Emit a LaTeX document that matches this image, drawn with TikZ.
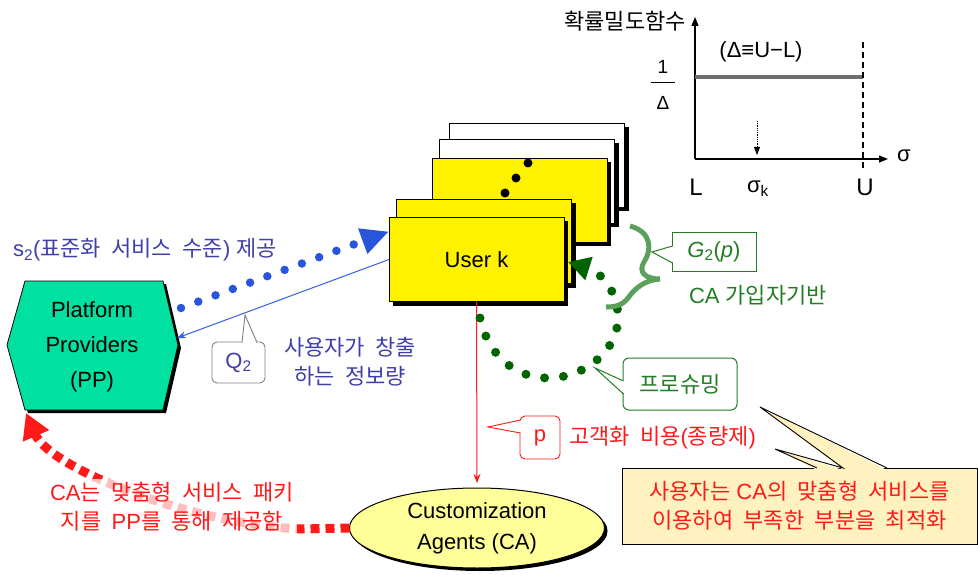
\documentclass[tikz,border=0pt]{standalone}
\usepackage{fontspec}
\setmainfont{Liberation Sans}
\newfontfamily\kr{Noto Sans CJK KR}[Scale=1.0, WordSpace=2.1]
\usetikzlibrary{arrows.meta,shadows,shapes.geometric,calc}

\definecolor{ppgreen}{RGB}{0,224,160}
\definecolor{dotblue}{RGB}{40,85,220}
\definecolor{txtblue}{RGB}{64,64,170}
\definecolor{linblue}{RGB}{50,95,230}
\definecolor{myred}{RGB}{255,25,25}
\definecolor{dkgreen}{RGB}{0,100,0}
\definecolor{bracegreen}{RGB}{92,160,92}
\definecolor{txtgreen}{RGB}{35,125,35}
\definecolor{cayellow}{RGB}{255,255,153}
\definecolor{notecream}{RGB}{255,242,192}
\definecolor{qgray}{RGB}{128,128,128}
\definecolor{plotgray}{RGB}{110,110,110}

\begin{document}
\begin{tikzpicture}[x=1pt, y=-1pt,
  font=\fontsize{22}{30}\selectfont,
  every node/.style={inner sep=0pt, outer sep=0pt},
  hardshadow/.style={drop shadow={shadow xshift=4pt, shadow yshift=-4pt, fill=black, opacity=1}},
  userbox/.style={draw=black, line width=0.8pt, minimum width=175pt, minimum height=84pt, hardshadow},
  blankcard/.style={userbox, fill=white},
  yellowcard/.style={userbox, fill=yellow},
  axis/.style={line width=1.3pt, -{Triangle[length=9pt,width=7pt]}},
  bluedots/.style={dotblue, line width=8.5pt, line cap=round, dash pattern=on 0pt off 18.4pt, -{Triangle[length=28pt,width=25pt]}},
  greendots/.style={dkgreen, line width=9pt, line cap=round, dash pattern=on 0pt off 19pt, -{Triangle[length=22pt,width=23pt]}},
  reddots/.style={myred, line width=9pt, dash pattern=on 9pt off 6pt, -{Triangle[length=25pt,width=27pt]}},
  thinarrow/.style={line width=1pt, -{Stealth[length=9pt,width=7pt]}},
  qbox/.style={draw=qgray, fill=white, line width=0.9pt, rounded corners=5pt, minimum width=53pt, minimum height=41pt, text=txtblue},
  pbox/.style={draw=myred, fill=white, line width=0.9pt, rounded corners=5pt, minimum width=40pt, minimum height=43pt, text=myred},
  gbox/.style={draw=txtgreen, fill=white, line width=1pt, minimum width=84pt, minimum height=39pt, text=txtgreen},
  prbox/.style={draw=txtgreen, fill=white, line width=1pt, rounded corners=6pt, minimum width=114pt, minimum height=52pt, text=txtgreen},
  notebox/.style={draw=black, fill=notecream, line width=0.9pt, minimum width=355pt, minimum height=76pt, align=center, text=myred, font=\fontsize{22}{29}\selectfont},
]
\useasboundingbox (0,0) rectangle (978,575);

% ---------- uniform density plot ----------
\coordinate (O) at (695,159);
\coordinate (ytop) at (695,17);
\coordinate (xend) at (888,159);
\draw[axis] (O) -- (ytop);
\draw[axis] (O) -- (xend);
\node (ylab) at (625,21) {\kr 확률밀도함수};
\node (sig) at (904,156) {σ};
\draw[line width=4pt, plotgray] (695,77) -- (863,77);
\draw[line width=1.1pt, dash pattern=on 6pt off 4pt] (863,42) -- (863,168);
\node (deltadef) at (761,52) {(Δ≡U−L)};
\node[font=\fontsize{19}{20}\selectfont] (one) at (663,67) {1};
\draw[line width=0.9pt] (651,82) -- (675,82);
\node[font=\fontsize{19}{20}\selectfont] (dlt) at (663,103) {Δ};
\draw[densely dotted, line width=0.8pt, -{Triangle[length=8pt,width=6pt]}] (757,121) -- (757,155);
\node[font=\fontsize{24}{26}\selectfont] (Llab) at (696,187) {L};
\node (sk) at (758,189) {σ\textsubscript{k}};
\node[font=\fontsize{24}{26}\selectfont] (Ulab) at (865,187) {U};

% ---------- stack of users ----------
\node[blankcard] (u1) at (537,165) {};
\node[blankcard] (u2) at (527,181) {};
\node[yellowcard] (u3) at (519.5,200) {};
\node[yellowcard] (u4) at (484,241.5) {};
\node[yellowcard] (u5) at (476.5,259.5) {User k};
\fill (528,163) circle (4.5pt) (516,178) circle (4.5pt) (505,193) circle (4.5pt);

% ---------- platform providers ----------
\fill[black, shift={(3pt,-3pt)}] (25,281) -- (163,281) -- (178,345) -- (163,410) -- (25,410) -- (7,345) -- cycle;
\filldraw[fill=ppgreen, draw=black, line width=0.8pt] (25,281) -- (163,281) -- (178,345) -- (163,410) -- (25,410) -- (7,345) -- cycle;
\node[align=center, font=\fontsize{22}{35}\selectfont] (pp) at (92,347) {Platform\\Providers\\(PP)};
\coordinate (ppE) at (177,338);
\coordinate (ppNE) at (181,308);
\coordinate (ppSW) at (26,413);

% ---------- customization agents ----------
\node[ellipse, draw, line width=1pt, fill=cayellow, minimum width=255pt, minimum height=80pt,
      drop shadow={shadow xshift=3pt, shadow yshift=-3pt, fill=black, opacity=1},
      align=center, font=\fontsize{22}{31}\selectfont] (ca) at (477,528) {Customization\\Agents (CA)};

% ---------- standard service level and information volume ----------
\draw[bluedots] (ppNE) -- ($(u5.north west)+(0,14)$);
\node[anchor=west, text=txtblue] (s2lab) at (13,250) {s\textsubscript{2}({\kr 표준화 서비스 수준}) {\kr 제공}};
\draw[thinarrow, linblue] (u5.west) -- (ppE);
\node[qbox] (q2) at (238.5,362.5) {Q\textsubscript{2}};
\coordinate (q2tip) at (245,315);
\fill[white] (242,344) -- (q2tip) -- (257,344) -- cycle;
\draw[qgray, line width=0.9pt] (242,342.5) -- (q2tip) -- (257,342.5);
\node[align=center, text=txtblue, font=\fontsize{22}{29}\selectfont] (qlab) at (350,362) {{\kr 사용자가 창출}\\{\kr 하는 정보량}};

% ---------- customization fee ----------
\draw[thinarrow, myred, shorten >=5pt] (u5.south) -- (ca.north);
\node[pbox] (pc) at (540,437.5) {p};
\coordinate (pctip) at (488,427);
\fill[white] (522,420) -- (pctip) -- (522,433) -- cycle;
\draw[myred, line width=0.9pt] (520.5,420) -- (pctip) -- (520.5,433);
\node[anchor=west, text=myred] (feelab) at (569,438) {{\kr 고객화 비용}({\kr 종량제})};

% ---------- prosuming loop ----------
\coordinate (gstart) at (480,318);
\coordinate (gtip) at ($(u5.east)+(4,2.5)$);
\draw[greendots] (gstart) .. controls (488,355) and (515,378) .. (548,378)
                         .. controls (585,378) and (618,350) .. (618,318)
                         .. controls (618,290) and (600,272) .. (gtip);
\draw[bracegreen, line width=5pt] (630,226) .. controls (652,232) and (652,250) .. (644,262)
                                  .. controls (638,272) and (645,279) .. (660,279)
                                  .. controls (645,280) and (635,288) .. (628,298)
                                  .. controls (622,306) and (614,307) .. (606,307);
\node[gbox] (g2) at (714,251.5) {\textit{G}\textsubscript{2}(\textit{p})};
\coordinate (g2tip) at (652,252);
\fill[white] (674,246) -- (g2tip) -- (674,263) -- cycle;
\draw[txtgreen, line width=1pt] (672.5,246) -- (g2tip) -- (672.5,263);
\node[text=txtgreen] (calab) at (758,295) {CA {\kr 가입자기반}};
\node[prbox] (pros) at (680,384) {\kr 프로슈밍};
\coordinate (prtip) at (595,368);
\fill[white] (625,381) -- (prtip) -- (625,394) -- cycle;
\draw[txtgreen, line width=1pt] (623.5,381) -- (prtip) -- (623.5,394);

% ---------- user-side note ----------
\node[notebox] (note) at (799.5,506) {{\kr 사용자는} CA{\kr 의 맞춤형 서비스를}\\{\kr 이용하여 부족한 부분을 최적화}};
\coordinate (notetipA) at (760,407);
\coordinate (notetipB) at (775,449);
\fill[notecream] (817,470) -- (notetipB) -- (843,470) -- (notetipA) -- (887,470) -- cycle;
\draw[line width=0.9pt] (817,468) -- (notetipB) -- (843,468) -- (notetipA) -- (887,468);

% ---------- packages delivered through PP ----------
\draw[reddots] (ca.west) -- (300,529) .. controls (190,524) and (50,468) .. (ppSW);
\node[fill=white, fill opacity=0.72, text opacity=1, text=myred, align=center, inner sep=3pt,
      font=\fontsize{22}{29}\selectfont] (catext) at (172,507)
      {CA{\kr 는 맞춤형 서비스 패키}\\{\kr 지를 }PP{\kr 를 통해 제공함}};
\end{tikzpicture}
\end{document}
